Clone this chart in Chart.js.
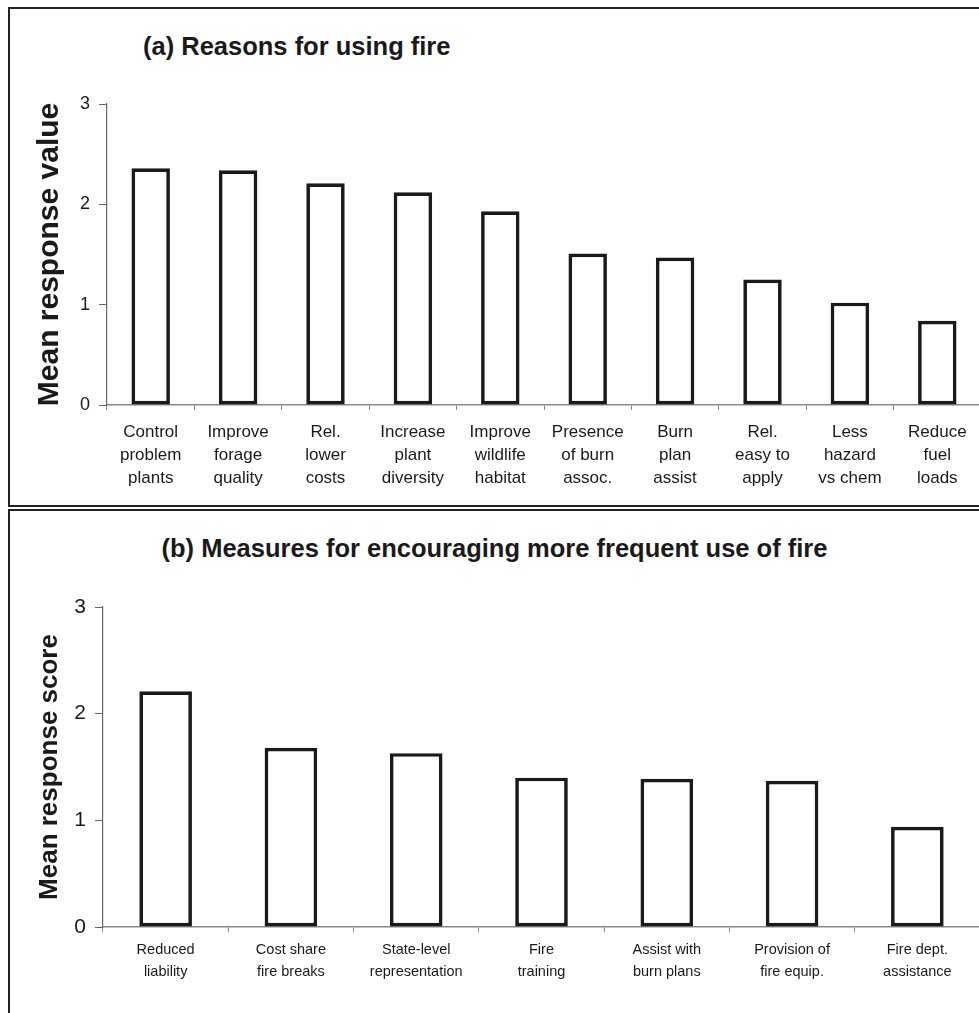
<!DOCTYPE html>
<html>
<head>
<meta charset="utf-8">
<script src="https://cdn.jsdelivr.net/npm/chart.js@4/dist/chart.umd.min.js"></script>
<style>
  html, body { margin: 0; padding: 0; background: #fff; overflow: hidden; width: 979px; height: 1013px; }
  .frame { position: absolute; border: 2px solid #222; box-sizing: border-box; }
  .ptitle { position: absolute; font-family: "Liberation Sans", Arial, sans-serif; font-weight: bold; font-size: 25.5px; line-height: 30px; color: #1a1a1a; white-space: nowrap; }
  canvas { position: absolute; }
</style>
</head>
<body>
<div class="frame" style="left:8px; top:7px; width:1000px; height:500px;"></div>
<div class="frame" style="left:8px; top:509px; width:1000px; height:600px;"></div>
<div class="ptitle" style="left:143px; top:31px;">(a) Reasons for using fire</div>
<div class="ptitle" style="left:0; width:989px; text-align:center; top:533px;">(b) Measures for encouraging more frequent use of fire</div>
<div style="position:absolute; left:0; top:0; width:990px; height:508px;"><canvas id="ca"></canvas></div>
<div style="position:absolute; left:0; top:510px; width:990px; height:503px;"><canvas id="cb"></canvas></div>
<script>
// ---- Data ----
const reasonLabels = [
  ["Control", "problem", "plants"],
  ["Improve", "forage", "quality"],
  ["Rel.", "lower", "costs"],
  ["Increase", "plant", "diversity"],
  ["Improve", "wildlife", "habitat"],
  ["Presence", "of burn", "assoc."],
  ["Burn", "plan", "assist"],
  ["Rel.", "easy to", "apply"],
  ["Less", "hazard", "vs chem"],
  ["Reduce", "fuel", "loads"]
];
const reasonValues = [2.36, 2.34, 2.21, 2.12, 1.93, 1.51, 1.47, 1.25, 1.02, 0.84];

const measureLabels = [
  ["Reduced", "liability"],
  ["Cost share", "fire breaks"],
  ["State-level", "representation"],
  ["Fire", "training"],
  ["Assist with", "burn plans"],
  ["Provision of", "fire equip."],
  ["Fire dept.", "assistance"]
];
const measureValues = [2.21, 1.68, 1.63, 1.40, 1.39, 1.37, 0.94];

const yTicks = [0, 1, 2, 3];

const FONT = '"Liberation Sans", Arial, sans-serif';
const TEXT = '#1a1a1a';
const AXIS = '#666';

function makeChart(id, labels, values, cfg) {
  return new Chart(document.getElementById(id), {
    type: 'bar',
    data: {
      labels: labels,
      datasets: [{
        data: values,
        backgroundColor: '#ffffff',
        borderColor: '#1a1a1a',
        borderWidth: 3.7,
        borderSkipped: false,
        categoryPercentage: 1.0,
        barPercentage: cfg.barPct
      }]
    },
    options: {
      responsive: true,
      maintainAspectRatio: false,
      animation: false,
      devicePixelRatio: 1,
      layout: { padding: { top: cfg.top, right: 990 - cfg.right, bottom: 0, left: 0 } },
      plugins: { legend: { display: false }, tooltip: { enabled: false }, title: { display: false } },
      scales: {
        x: {
          grid: { drawOnChartArea: false, drawTicks: true, tickLength: 5, color: '#888', offset: true },
          border: { display: true, color: '#888', width: 1.5 },
          ticks: { color: TEXT, font: { family: FONT, size: cfg.xFont, lineHeight: cfg.xLine / cfg.xFont }, padding: cfg.xPad, maxRotation: 0, autoSkip: false },
          afterFit: s => { s.height = cfg.canvasH - cfg.bottom; }
        },
        y: {
          min: 0, max: 3,
          afterBuildTicks: s => { s.ticks = yTicks.map(v => ({ value: v })); },
          grid: { drawOnChartArea: false, drawTicks: true, tickLength: 8, color: AXIS },
          border: { display: true, color: AXIS, width: 1.2 },
          ticks: { color: TEXT, font: { family: FONT, size: cfg.yFont }, padding: 9 },
          title: { display: true, text: cfg.yTitle, color: TEXT, font: { family: FONT, size: cfg.yTitleSize, weight: 'bold' }, padding: { top: cfg.yTitlePad, bottom: 0 } },
          afterFit: s => { s.width = cfg.left; }
        }
      }
    }
  });
}

makeChart('ca', reasonLabels, reasonValues, {
  canvasH: 508, top: 104, bottom: 405, left: 107, right: 981,
  barPct: 0.44, xFont: 17, xLine: 23, xPad: 10.5, yFont: 18,
  yTitle: 'Mean response value', yTitleSize: 30, yTitlePad: 31.5
});
makeChart('cb', measureLabels, measureValues, {
  canvasH: 503, top: 97, bottom: 417, left: 103, right: 980,
  barPct: 0.42, xFont: 14.5, xLine: 22, xPad: 7, yFont: 21,
  yTitle: 'Mean response score', yTitleSize: 26, yTitlePad: 34.4
});
</script>
</body>
</html>
